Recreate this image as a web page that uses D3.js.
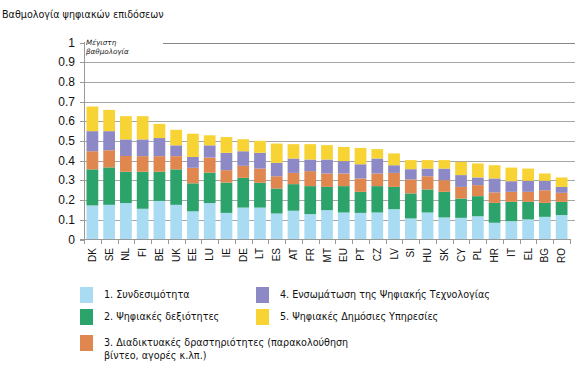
<!DOCTYPE html>
<html><head><meta charset="utf-8">
<script src="https://cdn.jsdelivr.net/npm/d3@7"></script>
<style>body{margin:0;background:#fff}svg{display:block}</style>
</head><body>
<svg id="c" width="586" height="368"></svg>
<script>
const countries = ["DK","SE","NL","FI","BE","UK","EE","LU","IE","DE","LT","ES","AT","FR","MT","EU","PT","CZ","LV","SI","HU","SK","CY","PL","HR","IT","EL","BG","RO"];
const connectivity = [0.173,0.176,0.185,0.156,0.196,0.176,0.143,0.185,0.135,0.162,0.162,0.132,0.146,0.129,0.149,0.137,0.135,0.137,0.154,0.107,0.137,0.112,0.110,0.118,0.085,0.093,0.102,0.115,0.124];
const skills       = [0.183,0.190,0.159,0.188,0.148,0.180,0.142,0.154,0.154,0.151,0.126,0.127,0.135,0.142,0.118,0.134,0.107,0.134,0.113,0.127,0.117,0.130,0.098,0.102,0.101,0.098,0.089,0.071,0.067];
const internetUse  = [0.092,0.087,0.080,0.079,0.079,0.067,0.079,0.077,0.063,0.061,0.072,0.062,0.057,0.076,0.068,0.064,0.068,0.064,0.071,0.071,0.067,0.059,0.059,0.056,0.053,0.051,0.051,0.064,0.046];
const integration  = [0.102,0.097,0.084,0.085,0.092,0.055,0.055,0.062,0.088,0.074,0.080,0.068,0.073,0.059,0.071,0.063,0.072,0.076,0.039,0.052,0.039,0.059,0.060,0.039,0.071,0.054,0.056,0.048,0.030];
const publicServ   = [0.125,0.108,0.118,0.118,0.072,0.079,0.118,0.051,0.080,0.061,0.061,0.098,0.073,0.078,0.073,0.072,0.083,0.048,0.060,0.046,0.043,0.043,0.067,0.071,0.067,0.069,0.062,0.037,0.048];
const seriesNames = ["1. Συνδεσιμότητα","2. Ψηφιακές δεξιότητες","3. Διαδικτυακές δραστηριότητες (παρακολούθηση βίντεο, αγορές κ.λπ.)","4. Ενσωμάτωση της Ψηφιακής Τεχνολογίας","5. Ψηφιακές Δημόσιες Υπηρεσίες"];
const yTicks = [0,0.1,0.2,0.3,0.4,0.5,0.6,0.7,0.8,0.9,1];
const yTickLabels = ["0","0.1","0.2","0.3","0.4","0.5","0.6","0.7","0.8","0.9","1"];
const colors = ["#a9dcf2","#2ba36b","#e0874f","#8d89c7","#f7d333"];

const keys = ["s0","s1","s2","s3","s4"];
const seriesArrays = [connectivity, skills, internetUse, integration, publicServ];
const rows = countries.map((c,i)=>{const r={c}; keys.forEach((k,j)=>r[k]=seriesArrays[j][i]); return r;});

const svg = d3.select("#c");
const x = d3.scaleBand().domain(countries).range([84,570]).paddingInner(0.3).paddingOuter(0.15);
const y = d3.scaleLinear().domain([0,1]).range([239.5,42.5]);

svg.append("text").attr("x",2).attr("y",18).attr("font-family","DejaVu Sans").attr("font-size",9.6).attr("fill","#111").text("Βαθμολογία ψηφιακών  επιδόσεων");

// gridlines
const g = svg.append("g");
yTicks.filter(t=>t>0).forEach(t=>{
  g.append("line").attr("x1", t===1?163:80).attr("x2",575).attr("y1",Math.round(y(t))+0.5).attr("y2",Math.round(y(t))+0.5).attr("stroke", t===1?"#888":"#a6a6a6").attr("stroke-width",1);
});
// y labels
yTicks.forEach((t,i)=>{
  svg.append("text").attr("x",75).attr("y",y(t)+4).attr("text-anchor","end").attr("font-family","Liberation Sans, Arial").attr("font-size",12).attr("fill","#111").text(yTickLabels[i]);
});
svg.append("text").attr("x",86).attr("y",45).attr("font-family","DejaVu Sans").attr("font-style","italic").attr("font-size",7.2).attr("fill","#222").text("Μέγιστη");
svg.append("text").attr("x",86).attr("y",54).attr("font-family","DejaVu Sans").attr("font-style","italic").attr("font-size",7.2).attr("fill","#222").text("βαθμολογία");

// bars
const stack = d3.stack().keys(keys)(rows);
svg.append("g").selectAll("g").data(stack).join("g").attr("fill",(d,i)=>colors[i])
  .selectAll("rect").data(d=>d).join("rect")
  .attr("x",d=>x(d.data.c)).attr("width",x.bandwidth())
  .attr("y",d=>y(d[1])).attr("height",d=>y(d[0])-y(d[1]));

// axes
svg.append("line").attr("x1",84.5).attr("x2",84.5).attr("y1",42).attr("y2",240).attr("stroke","#999");
svg.append("line").attr("x1",80).attr("x2",571).attr("y1",239.5).attr("y2",239.5).attr("stroke","#999");
for(let i=0;i<=countries.length;i++){
  const xx = Math.round(84 + (i)*(486/countries.length))+0.5;
  svg.append("line").attr("x1",xx).attr("x2",xx).attr("y1",239.5).attr("y2",244).attr("stroke","#999");
}
yTicks.forEach(t=>{
  svg.append("line").attr("x1",80).attr("x2",84).attr("y1",Math.round(y(t))+0.5).attr("y2",Math.round(y(t))+0.5).attr("stroke","#999");
});
countries.forEach(c=>{
  const cx = x(c)+x.bandwidth()/2;
  svg.append("text").attr("transform",`translate(${cx+3.5},248) rotate(-90)`).attr("text-anchor","end")
    .attr("font-family","Liberation Sans, Arial").attr("font-size",10).attr("fill","#111").text(c);
});

// legend
const leg = [
  {i:0,x:80,y:287,lines:[seriesNames[0]]},
  {i:1,x:80,y:309,lines:[seriesNames[1]]},
  {i:2,x:80,y:335,lines:["3. Διαδικτυακές δραστηριότητες (παρακολούθηση","βίντεο, αγορές κ.λπ.)"]},
  {i:3,x:256,y:287,lines:[seriesNames[3]]},
  {i:4,x:256,y:309,lines:[seriesNames[4]]}
];
leg.forEach(l=>{
  svg.append("rect").attr("x",l.x).attr("y",l.y).attr("width",13).attr("height",16).attr("fill",colors[l.i]);
  l.lines.forEach((t,k)=>{
    svg.append("text").attr("x",l.x+24).attr("y",l.y+11+k*13).attr("font-family","DejaVu Sans").attr("font-size",9.6).attr("fill","#111").text(t);
  });
});
</script>
</body></html>
